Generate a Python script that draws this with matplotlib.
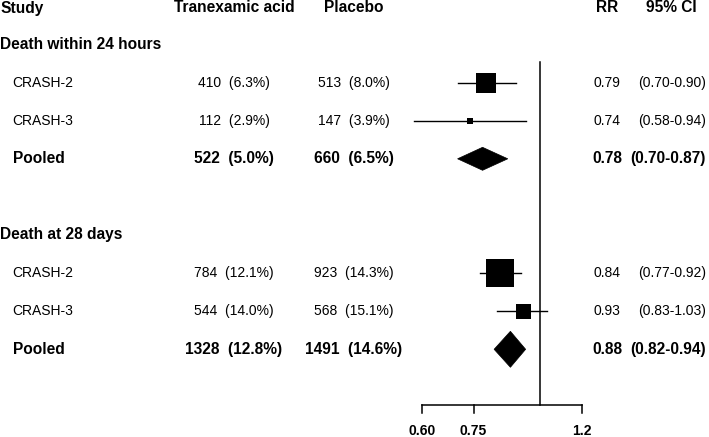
import numpy as np
import matplotlib
matplotlib.use("Agg")
import matplotlib.pyplot as plt
from matplotlib.patches import Polygon

plt.rcParams['font.family'] = ['Liberation Sans', 'DejaVu Sans']

# data
outcomes = ["Death within 24 hours", "Death at 28 days"]
studies = ["CRASH-2", "CRASH-3", "Pooled"]
txa_n = [[410, 112, 522], [784, 544, 1328]]
txa_pct = [[6.3, 2.9, 5.0], [12.1, 14.0, 12.8]]
pbo_n = [[513, 147, 660], [923, 568, 1491]]
pbo_pct = [[8.0, 3.9, 6.5], [14.3, 15.1, 14.6]]
rr = [[0.79, 0.74, 0.78], [0.84, 0.93, 0.88]]
ci_lo = [[0.70, 0.58, 0.70], [0.77, 0.83, 0.82]]
ci_hi = [[0.90, 0.94, 0.87], [0.92, 1.03, 0.94]]
ticks = [0.60, 0.75, 1.2]
tick_labels = ["0.60", "0.75", "1.2"]

W, H = 709, 437
fig = plt.figure(figsize=(W / 100, H / 100), dpi=100)

# text layer in pixel coords
tx = fig.add_axes([0, 0, 1, 1])
tx.set_xlim(0, W)
tx.set_ylim(H, 0)
tx.axis('off')

# forest layer: log x, 0.6 at px 422 and 1.2 at px 582
fp = fig.add_axes([0, 0, 1, 1])
fp.patch.set_alpha(0)
fp.set_xscale('log')
x0, x1 = 422, 582
fp.set_xlim(0.6 * 2 ** (-x0 / (x1 - x0)), 0.6 * 2 ** ((W - x0) / (x1 - x0)))
fp.set_ylim(H, 0)
fp.axis('off')

REG = 10
BOLD = 11.2
col_txa, col_pbo, col_rr, col_ci = 234, 354, 607, 706

# header
tx.text(0.5, 8, "Study", fontsize=BOLD, fontweight='bold', va='center')
tx.text(col_txa, 8, "Tranexamic acid", fontsize=BOLD, fontweight='bold', va='center', ha='center')
tx.text(col_pbo, 8, "Placebo", fontsize=BOLD, fontweight='bold', va='center', ha='center')
tx.text(col_rr, 8, "RR", fontsize=BOLD, fontweight='bold', va='center', ha='center')
tx.text(671.5, 8, "95% CI", fontsize=BOLD, fontweight='bold', va='center', ha='center')

box_px = [[20, 6], [28, 15]]
diamond_h = [23, 36]

def row_y(i):
    return 44.5 + 38.1 * i

for g in range(len(outcomes)):
    base = g * 5
    tx.text(0.5, row_y(base), outcomes[g], fontsize=BOLD, fontweight='bold', va='center')
    for k in range(len(studies)):
        y = row_y(base + 1 + k)
        pooled = studies[k] == "Pooled"
        fw = 'bold' if pooled else 'normal'
        fs = BOLD if pooled else REG
        tx.text(13 if pooled else 12, y, studies[k], fontsize=fs, fontweight=fw, va='center')
        tx.text(col_txa, y, "%d  (%.1f%%)" % (txa_n[g][k], txa_pct[g][k]),
                fontsize=fs, fontweight=fw, va='center', ha='center')
        tx.text(col_pbo, y, "%d  (%.1f%%)" % (pbo_n[g][k], pbo_pct[g][k]),
                fontsize=fs, fontweight=fw, va='center', ha='center')
        tx.text(col_rr, y, "%.2f" % rr[g][k], fontsize=fs, fontweight=fw, va='center', ha='center')
        tx.text(col_ci, y, "(%.2f-%.2f)" % (ci_lo[g][k], ci_hi[g][k]),
                fontsize=fs, fontweight=fw, va='center', ha='right')
        if pooled:
            h = diamond_h[g] / 2
            fp.add_patch(Polygon([(ci_lo[g][k], y), (rr[g][k], y - h), (ci_hi[g][k], y), (rr[g][k], y + h)],
                                 closed=True, facecolor='black', edgecolor='black', lw=0.5))
        else:
            fp.plot([ci_lo[g][k], ci_hi[g][k]], [y, y], color='black', lw=1.0)
            fp.plot(rr[g][k], y, marker='s', color='black', markersize=box_px[g][k] * 0.72, mew=0)

# line of no effect
fp.plot([1.0, 1.0], [62, 405], color='black', lw=1.1)

# bottom axis
fp.plot([ticks[0], ticks[-1]], [405, 405], color='black', lw=1.1)
for t, lab in zip(ticks, tick_labels):
    fp.plot([t, t], [405, 413], color='black', lw=1.1)
    fp.text(t, 431, lab, fontsize=REG, fontweight='bold', ha='center', va='center')

fig.savefig("out.png", dpi=100)
